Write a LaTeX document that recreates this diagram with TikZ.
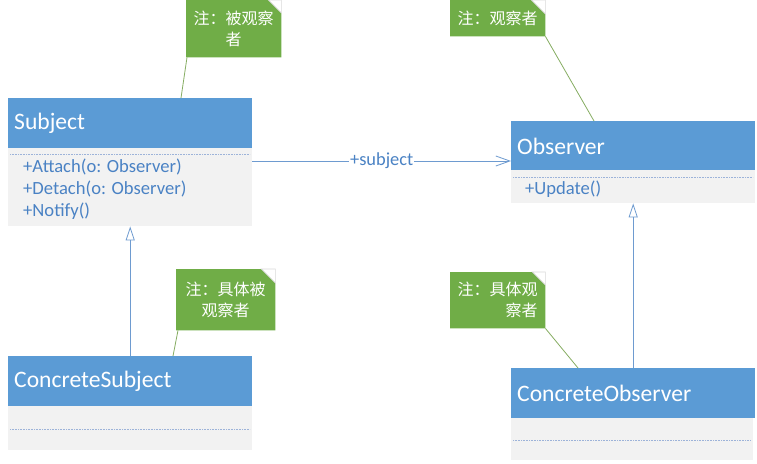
\documentclass[tikz,border=0pt]{standalone}
\usepackage{fontspec}
\setmainfont{Carlito}
\newfontfamily\cjk{Noto Sans CJK SC}
\usetikzlibrary{arrows.meta,calc}
\definecolor{hdrblue}{HTML}{5B9BD5}
\definecolor{bodygray}{HTML}{F2F2F2}
\definecolor{methblue}{HTML}{4A82C4}
\definecolor{dotblue}{HTML}{9DB3D9}
\definecolor{linkblue}{HTML}{6E9BD0}
\definecolor{notegreen}{HTML}{70AD47}
\definecolor{noteline}{HTML}{86AD62}
\tikzset{
  hdr/.style={rectangle, fill=hdrblue, minimum width=244pt, minimum height=50pt, inner xsep=6pt, inner ysep=0pt, text width=232pt, align=left, anchor=north west, text=white, font=\fontsize{23.6}{26}\selectfont},
  bodybox/.style={rectangle, fill=bodygray, minimum width=244pt, inner sep=0pt, anchor=north west},
  meth/.style={anchor=west, inner sep=0pt, text=methblue, font=\fontsize{18.6}{21}\selectfont},
  sepline/.style={dotblue, line width=0.8pt, dash pattern=on 0.8pt off 0.8pt},
  notebox/.style={rectangle, inner sep=0pt, anchor=north west},
  notetext/.style={inner sep=0pt, anchor=center, text=white, font=\cjk\fontsize{16}{21}\selectfont},
  noteconn/.style={noteline, line width=0.8pt},
  assoc/.style={linkblue, line width=0.8pt, -{Straight Barb[length=14pt,width=10pt]}},
  gener/.style={linkblue, line width=0.8pt, -{Triangle[open,length=14pt,width=9pt]}},
}
\newcommand{\drawnote}[2]{%
  \fill[notegreen] (#1.north west) -- ([xshift=-#2]#1.north east) -- ([yshift=-#2]#1.north east) -- (#1.south east) -- (#1.south west) -- cycle;
  \draw[gray!30, line width=0.6pt] ([xshift=-#2]#1.north east) -- ([yshift=-#2]#1.north east) -- (#1.north east) -- cycle;
}
\begin{document}
\begin{tikzpicture}[x=1pt,y=-1pt]
\useasboundingbox[fill=white] (0,0) rectangle (757,463);

% Subject
\node[hdr] (subjH) at (8,98) {Subject};
\node[bodybox, minimum height=78pt] (subjB) at (8,148) {};
\draw[sepline] (10,154) -- (250,154);
\node[meth] (m1) at (23,167) {+Attach(o: Observer)};
\node[meth] (m2) at (23,189) {+Detach(o: Observer)};
\node[meth] (m3) at (23,211) {+Notify()};

% Observer
\node[hdr] (obsH) at (511,121) {Observer};
\node[bodybox, minimum height=33pt] (obsB) at (511,170) {};
\draw[sepline] (513,177) -- (753,177);
\node[meth] (m4) at (525,189) {+Update()};

% ConcreteSubject
\node[hdr] (csH) at (8,356) {ConcreteSubject};
\node[bodybox, minimum height=44pt] (csB) at (8,406) {};
\draw[sepline] (10,429) -- (250,429);

% ConcreteObserver
\node[hdr, minimum width=242pt] (coH) at (511,368) {ConcreteObserver};
\node[bodybox, minimum width=242pt, minimum height=42pt] (coB) at (511,418) {};
\draw[sepline] (513,440) -- (751,440);

% association
\draw[assoc] ([yshift=-13pt]subjB.north east) -- node[fill=white, inner xsep=1pt, inner ysep=0pt, text=methblue, font=\fontsize{18.4}{21}\selectfont] (lbl) {+subject} ([yshift=-40pt]obsH.north west);

% generalizations
\draw[gener] (csH.north) -- (csH.north |- subjB.south);
\draw[gener] (coH.north) -- (coH.north |- obsB.south);

% notes
\node[notebox, minimum width=95pt, minimum height=57pt] (n1) at (186,0) {};
\drawnote{n1}{13pt}
\node[notetext, align=center] (t1) at (n1.center) {注：被观察\\者};

\node[notebox, minimum width=95pt, minimum height=36pt] (n2) at (450,0) {};
\drawnote{n2}{14pt}
\node[notetext] (t2) at (n2.center) {注：观察者};

\node[notebox, minimum width=99pt, minimum height=61pt] (n3) at (176,269) {};
\drawnote{n3}{14pt}
\node[notetext, align=center] (t3) at (n3.center) {注：具体被\\观察者};

\node[notebox, minimum width=95pt, minimum height=56pt] (n4) at (450,272) {};
\drawnote{n4}{13pt}
\node[notetext, align=right] (t4) at (n4.center) {注：具体观\\察者};

% note connectors
\draw[noteconn] ([xshift=1pt]n1.south west) -- ($(subjH.north west)+(173,0)$);
\draw[noteconn] (n2.south east) -- ($(obsH.north west)+(83,0)$);
\draw[noteconn] ([xshift=2pt]n3.south west) -- ($(csH.north west)+(165,0)$);
\draw[noteconn] (n4.south east) -- ($(coH.north west)+(67,0)$);
\end{tikzpicture}
\end{document}
